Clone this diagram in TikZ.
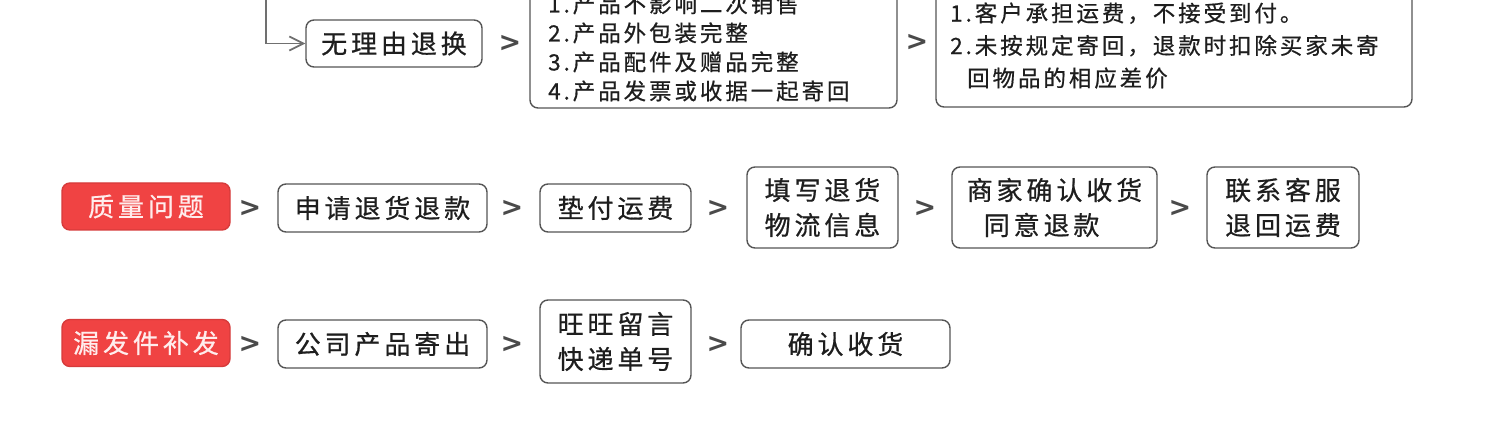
\documentclass[tikz,border=0pt]{standalone}
\usepackage{fontspec}
\setmainfont{Noto Sans CJK SC}[FakeBold=0.6]
\newfontfamily\sepfont{DejaVu Sans}
\usetikzlibrary{arrows.meta}
\definecolor{boxgray}{HTML}{555555}
\definecolor{textgray}{HTML}{1E1E1E}
\definecolor{redfill}{HTML}{F04343}
\definecolor{reddraw}{HTML}{D63B3B}
\definecolor{redtext}{HTML}{FFEDED}
\definecolor{sepgray}{HTML}{4A4A4A}
\definecolor{linegray}{HTML}{707070}
\begin{document}
\begin{tikzpicture}[x=1pt,y=-1pt,
  bigtext/.style={font=\fontsize{26pt}{35pt}\selectfont\addfontfeatures{LetterSpace=15}, text=textgray},
  smalltext/.style={font=\fontsize{22.5pt}{29pt}\selectfont\addfontfeatures{LetterSpace=13}, text=textgray, inner sep=0pt},
  box/.style 2 args={draw=boxgray, line width=1.4pt, rounded corners=8pt, fill=white,
    minimum width=#1, minimum height=#2, inner sep=0pt, align=center, bigtext},
  redbox/.style={box={168pt}{47pt}, fill=redfill, draw=reddraw, text=redtext},
  sep/.style={font=\sepfont\bfseries\fontsize{27pt}{27pt}\selectfont, text=sepgray, inner sep=0pt},
  feed/.style={draw=linegray, line width=1.5pt, -{Straight Barb[length=14pt,width=14pt,line width=1.8pt]}}
]
\useasboundingbox (0,0) rectangle (1500,438);
\clip (0,0) rectangle (1500,438);

% ---- row 1 ----
\coordinate (feedtop) at (266,-5);
\node (r1) [box={176pt}{47pt}] at (394,43.5) {无理由退换};
\draw[feed] (feedtop) |- (r1.west);
\node (s11) [sep] at (510,43) {>};
\node (r2) [box={367pt}{135pt}] at (713.5,40.5) {};
\node (r2t) [smalltext, anchor=west, align=left] at (548,47.5)
  {1.产品不影响二次销售\\2.产品外包装完整\\3.产品配件及赠品完整\\4.产品发票或收据一起寄回};
\node (s12) [sep] at (917,42) {>};
\node (r3) [box={476pt}{134pt}] at (1174,40) {};
\node (r3t) [smalltext, anchor=west, align=left, font=\fontsize{22.5pt}{32.5pt}\selectfont\addfontfeatures{LetterSpace=13}] at (950,45.5)
  {1.客户承担运费，不接受到付。\\2.未按规定寄回，退款时扣除买家未寄\\\hspace*{17pt}回物品的相应差价};

% ---- row 2 ----
\node (q0) [redbox] at (146,206.5) {质量问题};
\node (s21) [sep] at (250,208) {>};
\node (q1) [box={209pt}{48pt}] at (382.5,208) {申请退货退款};
\node (s22) [sep] at (512,208) {>};
\node (q2) [box={151pt}{48pt}] at (615.5,208) {垫付运费};
\node (s23) [sep] at (718,208) {>};
\node (q3) [box={151pt}{81pt}] at (822.5,207.5) {填写退货\\物流信息};
\node (s24) [sep] at (925,208) {>};
\node (q4) [box={205pt}{81pt}, align=left] at (1054.5,207.5) {商家确认收货\\\hspace*{17pt}同意退款};
\node (s25) [sep] at (1180,208) {>};
\node (q5) [box={152pt}{81pt}] at (1283,207.5) {联系客服\\退回运费};

% ---- row 3 ----
\node (m0) [redbox] at (146,343) {漏发件补发};
\node (s31) [sep] at (250,344) {>};
\node (m1) [box={209pt}{48pt}] at (382.5,344) {公司产品寄出};
\node (s32) [sep] at (512,344) {>};
\node (m2) [box={151pt}{83pt}] at (615.5,341.5) {旺旺留言\\快递单号};
\node (s33) [sep] at (718,344) {>};
\node (m3) [box={209pt}{48pt}] at (845.5,344) {确认收货};
\end{tikzpicture}
\end{document}
